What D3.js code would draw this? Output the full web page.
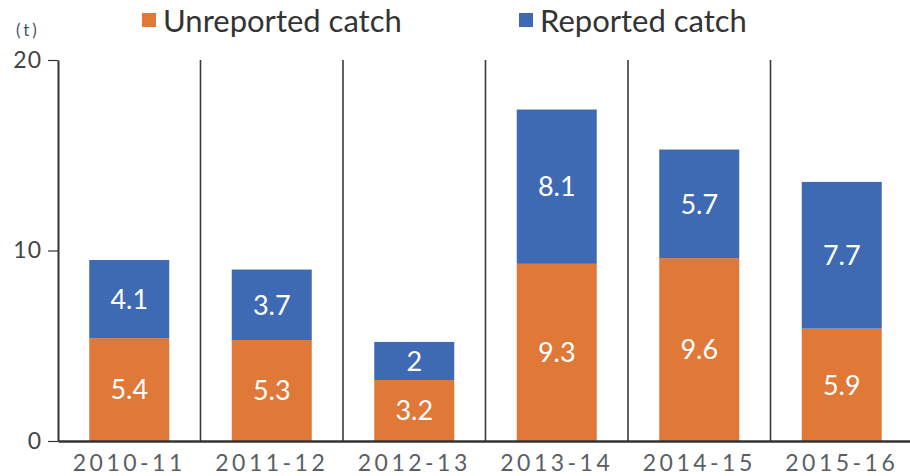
<!DOCTYPE html>
<html>
<head>
<meta charset="utf-8">
<script src="https://cdn.jsdelivr.net/npm/d3@7"></script>
<style>
  body { margin: 0; background: #fff; }
  svg { display: block; font-family: Lato, "Noto Sans", sans-serif; }
</style>
</head>
<body>
<div id="container"></div>
<script>
const seasons = ["2010-11", "2011-12", "2012-13", "2013-14", "2014-15", "2015-16"];
const unreported = [5.4, 5.3, 3.2, 9.3, 9.6, 5.9];
const reported = [4.1, 3.7, 2, 8.1, 5.7, 7.7];
const yTicks = [0, 10, 20];
const seriesNames = ["Unreported catch", "Reported catch"];
const colors = ["#e07838", "#3e6ab4"];

const width = 910, height = 476;
const margin = { top: 60, right: -3, bottom: 35, left: 58 };

const svg = d3.select("#container").append("svg")
    .attr("width", width)
    .attr("height", height);

const x = d3.scaleBand()
    .domain(seasons)
    .range([margin.left, width - margin.right])
    .paddingInner(0)
    .paddingOuter(0);

const y = d3.scaleLinear()
    .domain([0, 20])
    .range([height - margin.bottom, margin.top]);

const rows = seasons.map((s, i) => ({ season: s, unreported: unreported[i], reported: reported[i] }));
const stack = d3.stack().keys(["unreported", "reported"])(rows);

const barW = 80;

// bars
const layers = svg.append("g")
    .selectAll("g")
    .data(stack)
    .join("g")
    .attr("fill", (d, i) => colors[i]);

layers.selectAll("rect")
    .data(d => d)
    .join("rect")
    .attr("x", d => x(d.data.season) + x.bandwidth() / 2 - barW / 2)
    .attr("width", barW)
    .attr("y", d => y(d[1]))
    .attr("height", d => y(d[0]) - y(d[1]));

// value labels
layers.selectAll("text")
    .data(d => d.map(v => ({ v, key: d.key })))
    .join("text")
    .attr("x", d => x(d.v.data.season) + x.bandwidth() / 2)
    .attr("y", d => (y(d.v[0]) + y(d.v[1])) / 2)
    .attr("dy", "0.36em")
    .attr("text-anchor", "middle")
    .attr("fill", "#fff")
    .style("font-size", "27px")
    .text(d => d.v.data[d.key]);

// separators between seasons
svg.append("g")
    .selectAll("line")
    .data(seasons.slice(1))
    .join("line")
    .attr("x1", d => x(d))
    .attr("x2", d => x(d))
    .attr("y1", y(20))
    .attr("y2", y(0))
    .attr("stroke", "#3a3a3a")
    .attr("stroke-width", 1.6);

// y axis
const yAxis = svg.append("g")
    .attr("transform", `translate(${margin.left},0)`)
    .call(d3.axisLeft(y).tickValues(yTicks).tickSize(10).tickSizeOuter(0).tickPadding(6));
yAxis.select(".domain").attr("stroke", "#333").attr("stroke-width", 2);
yAxis.selectAll(".tick line").attr("stroke", "#333").attr("stroke-width", 1.2);
yAxis.selectAll(".tick text")
    .attr("fill", "#444")
    .style("font-size", "23px")
    .style("letter-spacing", "1px")
    .style("font-family", "Lato, 'Noto Sans', sans-serif");

// x axis
const xAxis = svg.append("g")
    .attr("transform", `translate(0,${y(0)})`)
    .call(d3.axisBottom(x).tickSize(0).tickPadding(14));
xAxis.select(".domain").attr("stroke", "#333").attr("stroke-width", 2.5);
xAxis.selectAll(".tick text")
    .attr("fill", "#5a5f66")
    .style("font-size", "23px")
    .style("letter-spacing", "3.5px")
    .style("font-family", "Lato, 'Noto Sans', sans-serif");

// unit
svg.append("text")
    .attr("x", 28)
    .attr("y", 36)
    .attr("text-anchor", "middle")
    .attr("fill", "#4a5568")
    .style("font-size", "17px")
    .style("letter-spacing", "3px")
    .text("(t)");

// legend
const legendX = [142, 519];
const legend = svg.append("g")
    .selectAll("g")
    .data(seriesNames)
    .join("g")
    .attr("transform", (d, i) => `translate(${legendX[i]},0)`);
legend.append("rect")
    .attr("x", 0)
    .attr("y", 13)
    .attr("width", 14)
    .attr("height", 14)
    .attr("fill", (d, i) => colors[i]);
legend.append("text")
    .attr("x", 21)
    .attr("y", 32)
    .attr("fill", "#333")
    .style("font-size", "31px")
    .text(d => d);
</script>
</body>
</html>
